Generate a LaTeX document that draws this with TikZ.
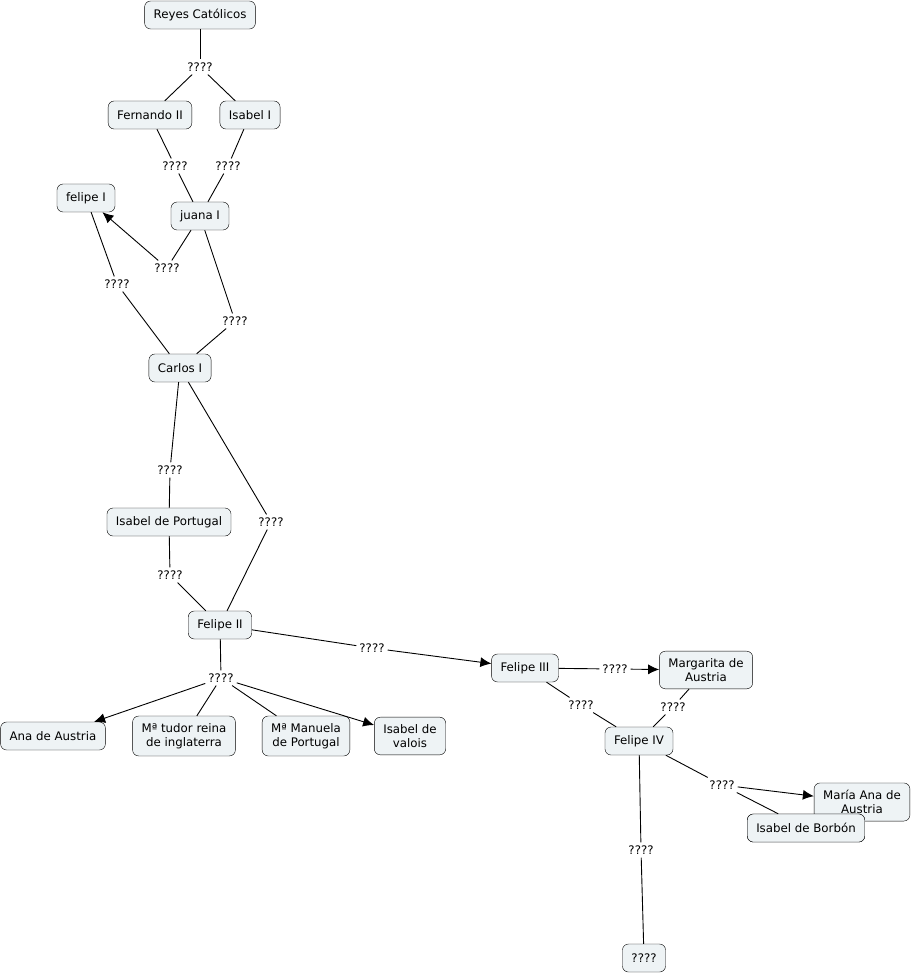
\documentclass[tikz,border=0pt]{standalone}
\usepackage{fontspec}
\setmainfont{DejaVu Sans}
\usetikzlibrary{arrows.meta}
\definecolor{cfill}{HTML}{EEF3F5}
\begin{document}
\begin{tikzpicture}[x=1pt,y=-1pt,
  concept/.style={draw=black,fill=cfill,rounded corners=6pt,font=\fontsize{11.8}{14.5}\selectfont,
    align=center,inner xsep=9pt,inner ysep=7pt,minimum height=28pt},
  linking/.style={font=\fontsize{11.8}{14.5}\selectfont,inner sep=3pt},
  rel/.style={draw=black,line width=0.9pt},
  relarr/.style={rel,-{Latex[length=11pt,width=10pt]}}]
  \useasboundingbox (0,0) rectangle (915,973);
  % concepts
  \node[concept] (reyes) at (200,15) {Reyes Católicos};
  \node[concept] (fernando) at (150,115) {Fernando II};
  \node[concept] (isabelI) at (250,115) {Isabel I};
  \node[concept] (felipeI) at (86,198) {felipe I};
  \node[concept] (juana) at (200,216) {juana I};
  \node[concept] (carlos) at (180,368) {Carlos I};
  \node[concept] (isabelP) at (169,522) {Isabel de Portugal};
  \node[concept] (felipeII) at (220,625) {Felipe II};
  \node[concept] (felipeIII) at (525,668) {Felipe III};
  \node[concept] (margarita) at (706,670) {Margarita de\\Austria};
  \node[concept] (felipeIV) at (639,741) {Felipe IV};
  \node[concept] (mariana) at (862,802) {María Ana de\\Austria};
  \node[concept] (isabelB) at (806,828) {Isabel de Borbón};
  \node[concept] (nada) at (644,958) {????};
  \node[concept] (ana) at (53,736) {Ana de Austria};
  \node[concept] (tudor) at (184,736) {Mª tudor reina\\de inglaterra};
  \node[concept] (manuela) at (306,736) {Mª Manuela\\de Portugal};
  \node[concept] (valois) at (410,736) {Isabel de\\valois};
  % linking phrases
  \foreach \n/\x/\y in {l1/200/67, l2/175/166, l3/228/166, l4/167/268, l5/117/284,
      l6/235/321, l7/170/470, l8/271/522, l9/170/575, l10/372/648, l11/221/678,
      l12/615/669, l13/581/705, l14/673/707, l15/722/785, l16/641/850} {
    \node[linking] (\n) at (\x,\y) {????};
  }
  % connections
  \foreach \a/\b in {reyes/l1, l1/fernando, l1/isabelI, fernando/l2, l2/juana,
      isabelI/l3, l3/juana, juana/l4, felipeI/l5, l5/carlos, juana/l6, l6/carlos,
      carlos/l7, l7/isabelP, carlos/l8, l8/felipeII, isabelP/l9, l9/felipeII,
      felipeII/l10, felipeII/l11, l11/tudor, l11/manuela, felipeIII/l12,
      felipeIII/l13, l13/felipeIV, margarita/l14, l14/felipeIV, felipeIV/l15,
      felipeIV/l16, l16/nada} {
    \draw[rel] (\a) -- (\b);
  }
  \foreach \a/\b in {l4/felipeI, l10/felipeIII, l11/ana, l11/valois, l12/margarita, l15/mariana} {
    \draw[relarr] (\a) -- (\b);
  }
  \node[concept] at (isabelB) {Isabel de Borbón};
  \draw[rel] (l15) -- (isabelB);
\end{tikzpicture}
\end{document}
